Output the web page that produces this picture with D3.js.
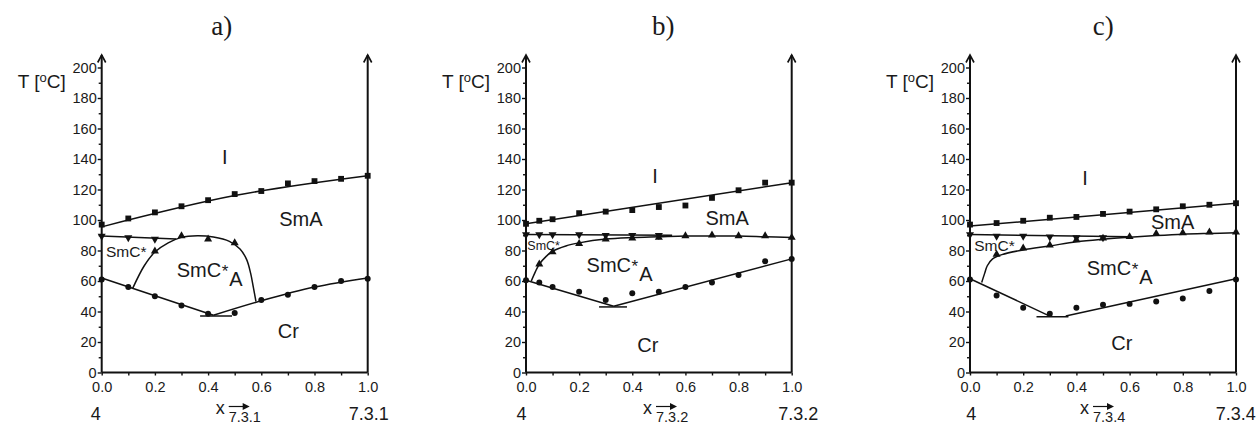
<!DOCTYPE html>
<html><head><meta charset="utf-8">
<script src="https://cdn.jsdelivr.net/npm/d3@7"></script>
<style>
html,body{margin:0;padding:0;background:#fff;}
svg{display:block;}
text{font-family:"Liberation Sans",Arial,sans-serif;fill:#1a1a1a;}
</style></head>
<body>
<svg id="chart" width="1259" height="425"></svg>
<script>
// ---------- shared axis data ----------
const xTickValues = [0, 0.2, 0.4, 0.6, 0.8, 1.0];
const xMinorValues = [0.1, 0.3, 0.5, 0.7, 0.9];
const yTickValues = [0, 20, 40, 60, 80, 100, 120, 140, 160, 180, 200];
const yMinorValues = [10, 30, 50, 70, 90, 110, 130, 150, 170, 190];
const panelTitles = ["a)", "b)", "c)"];
const endLabels = ["7.3.1", "7.3.2", "7.3.4"];
const startLabel = "4";

// ---------- panel a ----------
const aX = [0, 0.1, 0.2, 0.3, 0.4, 0.5, 0.6, 0.7, 0.8, 0.9, 1.0];
const aI = [97, 101, 105, 109, 113, 117, 119, 124, 125.5, 127, 129];
const aCr = [61, 56, 50, 44, 38.5, 39, 47.5, 51, 56, 60, 61.5];
const aSmcX = [0, 0.1, 0.2];
const aSmc = [89.5, 88.5, 87.5];
const aSmcaX = [0.2, 0.3, 0.4, 0.5];
const aSmca = [79.5, 89.5, 87.5, 85];
const aFitIX = [0, 0.5, 1.0];
const aFitI = [95.5, 116, 129];
const aFitSmcX = [0, 0.28];
const aFitSmc = [89.5, 87.5];
const aFitDomeX = [0.116, 0.16, 0.2, 0.25, 0.3, 0.36, 0.42, 0.48, 0.52, 0.545, 0.56, 0.57, 0.58];
const aFitDome = [55, 70, 79, 85, 88.6, 89.6, 88.8, 86, 81, 74, 65, 56, 46.5];
const aFitCrLX = [0, 0.42];
const aFitCrL = [62, 37.5];
const aFitCrRX = [0.42, 0.6, 0.8, 1.0];
const aFitCrR = [37.5, 47, 56, 62];
const aEutX = [0.37, 0.49];
const aEut = [37, 37];

// ---------- panel b ----------
const bX = [0, 0.05, 0.1, 0.2, 0.3, 0.4, 0.5, 0.6, 0.7, 0.8, 0.9, 1.0];
const bI = [97.5, 99.5, 100.5, 104.5, 105.5, 106.5, 108.5, 109.5, 114.5, 119.5, 124.5, 124.5];
const bCr = [60.5, 59, 56, 53, 47.5, 52, 53, 56, 59, 64, 73, 74.5];
const bSmcX = [0, 0.05, 0.1, 0.2, 0.3, 0.4, 0.5];
const bSmc = [90.5, 90.5, 90.5, 90.5, 90, 90, 90];
const bSmcaX = [0.05, 0.1, 0.2, 0.3, 0.4, 0.5, 0.6, 0.7, 0.8, 0.9, 1.0];
const bSmca = [71, 79, 84.5, 87.5, 88, 88.5, 89.5, 90, 89.5, 89.5, 88.5];
const bFitIX = [0, 1.0];
const bFitI = [97.5, 124.5];
const bFitSmcX = [0, 0.55];
const bFitSmc = [90.5, 90];
const bFitDomeX = [0.02, 0.035, 0.05, 0.075, 0.1, 0.15, 0.2, 0.3, 0.4, 0.5, 0.6, 0.7, 0.8, 0.9, 1.0];
const bFitDome = [60, 66, 71, 76, 79.5, 83, 85, 87.5, 88.5, 89, 89.5, 89.5, 89.5, 89, 88.5];
const bFitCrLX = [0, 0.33];
const bFitCrL = [60.5, 43.5];
const bFitCrRX = [0.33, 1.0];
const bFitCrR = [43.5, 74.5];
const bEutX = [0.275, 0.38];
const bEut = [43, 43];

// ---------- panel c ----------
const cX = [0, 0.1, 0.2, 0.3, 0.4, 0.5, 0.6, 0.7, 0.8, 0.9, 1.0];
const cI = [97, 98, 99.5, 101.5, 102, 104, 105.5, 107, 109, 110, 111];
const cCr = [61, 50.5, 42.5, 38.5, 42.5, 44.5, 45, 46.5, 48.5, 53.5, 61];
const cSmcX = [0, 0.1, 0.2, 0.3, 0.4, 0.5];
const cSmc = [90.5, 89.5, 89.5, 89, 88.5, 88.5];
const cSmcaX = [0.1, 0.2, 0.3, 0.4, 0.5, 0.6, 0.7, 0.8, 0.9, 1.0];
const cSmca = [77.5, 81.5, 83.5, 87, 88, 89, 91, 91.5, 92, 92];
const cFitIX = [0, 1.0];
const cFitI = [96, 111];
const cFitSmcX = [0, 0.6];
const cFitSmc = [90.5, 89];
const cFitDomeX = [0.044, 0.055, 0.065, 0.085, 0.12, 0.2, 0.3, 0.4, 0.5, 0.6, 0.7, 0.8, 0.9, 1.0];
const cFitDome = [59, 65, 70, 74.5, 77.3, 80.4, 83, 85.7, 87.4, 88.7, 89.8, 90.7, 91.2, 91.6];
const cFitCrLX = [0, 0.3];
const cFitCrL = [61.5, 37];
const cFitCrRX = [0.36, 1.0];
const cFitCrR = [37, 61.5];
const cEutX = [0.25, 0.37];
const cEut = [36.5, 36.5];

// ---------- phase labels ----------
const phaseNames = ["I", "SmA", "SmC*", "SmC", "Cr"];

const zip = (xs, ys) => xs.map((v, i) => [v, ys[i]]);

// layout (pixel placement of each panel)
const layout = [
  {x0: 101.7, x1: 367.7, titleX: 221.7, startDx: -6, endDx: 1, xlabDx: 119, smcSize: 15.5,
   lab: {I: [0.463, 137], SmA: [0.749, 96], SmC: [0.016, 76], SmCA: [0.282, 62.5], Cr: [0.662, 22.5]}},
  {x0: 526, x1: 791.7, titleX: 663.3, startDx: -4.5, endDx: 6.5, xlabDx: 122, smcSize: 12.5,
   lab: {I: [0.486, 124], SmA: [0.757, 96.7], SmC: [0.005, 80.3], SmCA: [0.228, 66], Cr: [0.419, 13.6]}},
  {x0: 970, x1: 1236, titleX: 1103.3, startDx: 1.3, endDx: -0.2, xlabDx: 115, smcSize: 15.5,
   lab: {I: [0.432, 123], SmA: [0.762, 94], SmC: [0.016, 80], SmCA: [0.439, 64], Cr: [0.531, 14.7]}}
];

const panelData = [
  {sq: zip(aX, aI), ci: zip(aX, aCr), inv: zip(aSmcX, aSmc), tri: zip(aSmcaX, aSmca),
   fits: [zip(aFitIX, aFitI), zip(aFitSmcX, aFitSmc), zip(aFitDomeX, aFitDome), zip(aFitCrLX, aFitCrL), zip(aFitCrRX, aFitCrR), zip(aEutX, aEut)]},
  {sq: zip(bX, bI), ci: zip(bX, bCr), inv: zip(bSmcX, bSmc), tri: zip(bSmcaX, bSmca),
   fits: [zip(bFitIX, bFitI), zip(bFitSmcX, bFitSmc), zip(bFitDomeX, bFitDome), zip(bFitCrLX, bFitCrL), zip(bFitCrRX, bFitCrR), zip(bEutX, bEut)]},
  {sq: zip(cX, cI), ci: zip(cX, cCr), inv: zip(cSmcX, cSmc), tri: zip(cSmcaX, cSmca),
   fits: [zip(cFitIX, cFitI), zip(cFitSmcX, cFitSmc), zip(cFitDomeX, cFitDome), zip(cFitCrLX, cFitCrL), zip(cFitCrRX, cFitCrR), zip(cEutX, cEut)]}
];

const svg = d3.select("#chart");
const yTop = 67.5, yBot = 372.5, arrowTip = 55;
const ink = "#111";
const tickFont = "14.5px";

panelData.forEach((pd, i) => {
  const L = layout[i];
  const x = d3.scaleLinear().domain([0, 1]).range([L.x0, L.x1]);
  const y = d3.scaleLinear().domain([0, 200]).range([yBot, yTop]);
  const g = svg.append("g");

  // title
  g.append("text").attr("x", L.titleX).attr("y", 35).attr("text-anchor", "middle")
    .style("font-family", "'Liberation Serif','Times New Roman',serif").style("font-size", "27px")
    .text(panelTitles[i]);

  // y axis ticks
  const ya = g.append("g").attr("transform", `translate(${L.x0},0)`)
    .call(d3.axisLeft(y).tickValues(yTickValues).tickSize(4).tickPadding(1).tickFormat(d3.format("d")));
  ya.select(".domain").remove();
  ya.selectAll("line").attr("stroke", ink).attr("stroke-width", 1.4);
  ya.selectAll("text").style("font-size", tickFont).style("font-family", "'Liberation Sans',Arial,sans-serif").attr("fill", "#1a1a1a");
  const ym = g.append("g").attr("transform", `translate(${L.x0},0)`)
    .call(d3.axisLeft(y).tickValues(yMinorValues).tickSize(3).tickFormat(""));
  ym.select(".domain").remove();
  ym.selectAll("line").attr("stroke", ink).attr("stroke-width", 1.4);

  // x axis ticks
  const xa = g.append("g").attr("transform", `translate(0,${yBot})`)
    .call(d3.axisBottom(x).tickValues(xTickValues).tickSize(3).tickPadding(6).tickFormat(d3.format(".1f")));
  xa.select(".domain").remove();
  xa.selectAll("line").attr("stroke", ink).attr("stroke-width", 1.4);
  xa.selectAll("text").style("font-size", tickFont).style("font-family", "'Liberation Sans',Arial,sans-serif").attr("fill", "#1a1a1a");
  const xm = g.append("g").attr("transform", `translate(0,${yBot})`)
    .call(d3.axisBottom(x).tickValues(xMinorValues).tickSize(3).tickFormat(""));
  xm.select(".domain").remove();
  xm.selectAll("line").attr("stroke", ink).attr("stroke-width", 1.4);

  // axis lines with arrows
  const axisLines = [
    [[L.x0, yBot], [L.x0, arrowTip]],
    [[L.x1, yBot], [L.x1, arrowTip]],
    [[L.x0, yBot], [L.x1, yBot]]
  ];
  axisLines.forEach(seg => g.append("path").attr("d", d3.line()(seg)).attr("stroke", ink).attr("stroke-width", 2).attr("fill", "none"));
  [L.x0, L.x1].forEach(ax => g.append("path")
    .attr("d", d3.line()([[ax - 4, arrowTip + 7.5], [ax, arrowTip], [ax + 4, arrowTip + 7.5]]))
    .attr("stroke", ink).attr("stroke-width", 1.6).attr("fill", "none"));

  // T [oC]
  const tl = g.append("text").attr("x", L.x0 - 36).attr("y", 88).attr("text-anchor", "end").style("font-size", "19px");
  tl.append("tspan").text("T [");
  tl.append("tspan").attr("dy", -6.5).style("font-size", "13px").text("o");
  tl.append("tspan").attr("dy", 6.5).text("C]");

  // fitted curves
  const line = d3.line().x(d => x(d[0])).y(d => y(d[1])).curve(d3.curveCatmullRom.alpha(0.5));
  pd.fits.forEach(f => g.append("path").attr("d", line(f)).attr("fill", "none").attr("stroke", ink).attr("stroke-width", 1.5));

  // markers
  const sq = d3.symbol().type(d3.symbolSquare).size(34);
  const ci = d3.symbol().type(d3.symbolCircle).size(28);
  const tr = d3.symbol().type(d3.symbolTriangle).size(28);
  g.selectAll(".sq").data(pd.sq).join("path").attr("d", sq).attr("fill", ink)
    .attr("transform", d => `translate(${x(d[0])},${y(d[1])})`);
  g.selectAll(".ci").data(pd.ci).join("path").attr("d", ci).attr("fill", ink)
    .attr("transform", d => `translate(${x(d[0])},${y(d[1])})`);
  g.selectAll(".inv").data(pd.inv).join("path").attr("d", tr).attr("fill", ink)
    .attr("transform", d => `translate(${x(d[0])},${y(d[1])}) rotate(180)`);
  g.selectAll(".tri").data(pd.tri).join("path").attr("d", tr).attr("fill", ink)
    .attr("transform", d => `translate(${x(d[0])},${y(d[1])})`);

  // phase labels
  const lab = L.lab;
  g.append("text").attr("x", x(lab.I[0])).attr("y", y(lab.I[1])).attr("text-anchor", "middle").style("font-size", "20px").text(phaseNames[0]);
  g.append("text").attr("x", x(lab.SmA[0])).attr("y", y(lab.SmA[1])).attr("text-anchor", "middle").style("font-size", "20px").text(phaseNames[1]);
  g.append("text").attr("x", x(lab.SmC[0])).attr("y", y(lab.SmC[1])).style("font-size", L.smcSize + "px").text(phaseNames[2]);
  const sm = g.append("text").attr("x", x(lab.SmCA[0])).attr("y", y(lab.SmCA[1])).style("font-size", "20px");
  sm.append("tspan").text(phaseNames[3]);
  sm.append("tspan").attr("dx", 0.5).attr("dy", 0).style("font-size", "17px").text("*");
  sm.append("tspan").attr("dx", 1).attr("dy", 9).text("A");
  g.append("text").attr("x", x(lab.Cr[0])).attr("y", y(lab.Cr[1])).style("font-size", "20px").text(phaseNames[4]);

  // bottom labels
  g.append("text").attr("x", L.x0 + L.startDx).attr("y", 420).attr("text-anchor", "middle").style("font-size", "18px").text(startLabel);
  g.append("text").attr("x", L.x1 + L.endDx).attr("y", 420).attr("text-anchor", "middle").style("font-size", "18px").text(endLabels[i]);
  const xlx = L.x0 + L.xlabDx;
  const xl = g.append("text").attr("x", xlx - 5).attr("y", 414).style("font-size", "18px");
  xl.append("tspan").text("x");
  xl.append("tspan").attr("dx", 4).attr("dy", 7.5).style("font-size", "14.5px").text(endLabels[i]);
  g.append("path").attr("d", d3.line()([[xlx + 8, 406.5], [xlx + 24, 406.5]])).attr("stroke", ink).attr("stroke-width", 1.2);
  g.append("path").attr("d", d3.line()([[xlx + 22, 403], [xlx + 29, 406.5], [xlx + 22, 410]])).attr("fill", ink);
});
</script>
</body></html>
